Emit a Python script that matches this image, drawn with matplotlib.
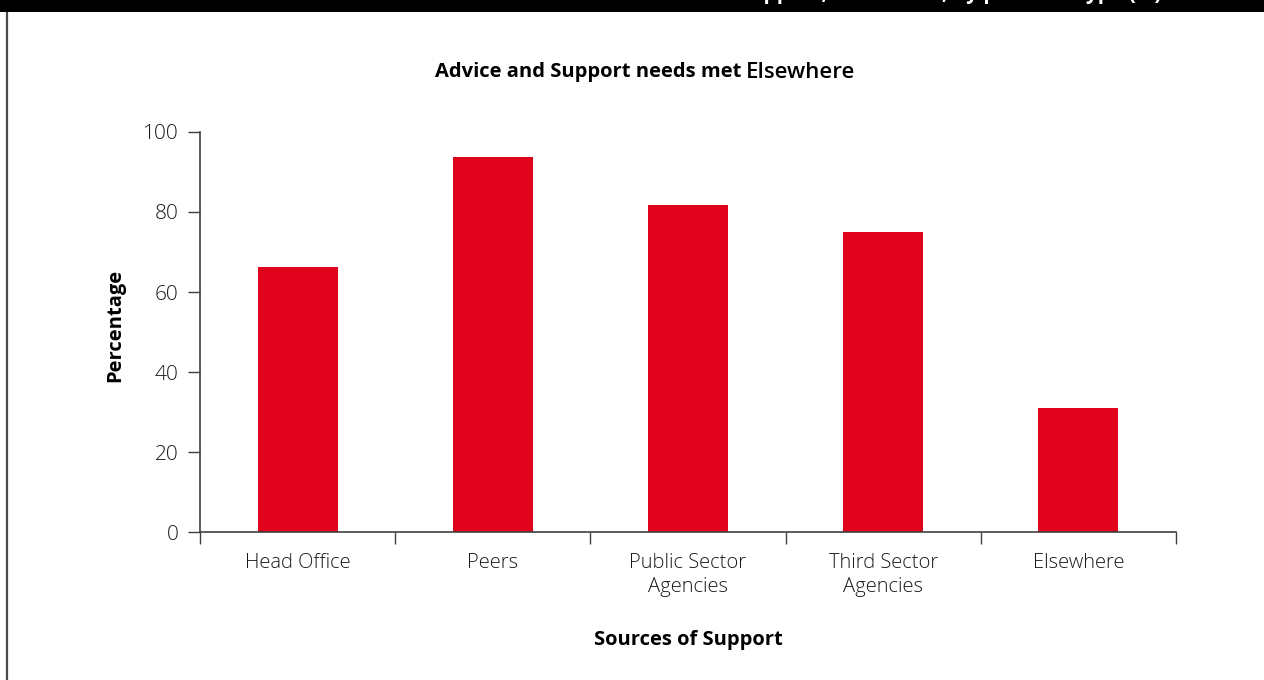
import matplotlib
import matplotlib.pyplot as plt
from matplotlib.lines import Line2D
from matplotlib.patches import Rectangle

matplotlib.use("Agg")

plt.rcParams["font.family"] = ["Open Sans", "DejaVu Sans"]

# Share of respondents whose advice/support needs were met, by source
sources = ["Head Office", "Peers", "Public Sector\nAgencies", "Third Sector\nAgencies", "Elsewhere"]
percentages = [66.2, 93.7, 81.7, 75.0, 31.0]
y_ticks = [0, 20, 40, 60, 80, 100]

BAR_RED = "#E1031D"
AXIS_GREY = "#404040"

fig = plt.figure(figsize=(12.64, 6.80), dpi=100)
ax = fig.add_axes([0.1582, 0.2176, 0.7722, 0.5883])

positions = list(range(len(sources)))
ax.bar(positions, percentages, width=0.41, color=BAR_RED, zorder=2)

ax.set_xlim(-0.5, len(sources) - 0.5)
ax.set_ylim(0, 100)
ax.set_yticks(y_ticks)
ax.set_yticklabels([str(t) for t in y_ticks], fontsize=15, color="#1a1a1a",
                   fontweight="light")

# category boundaries carry the tick marks, centres carry the labels
ax.set_xticks([p - 0.5 for p in positions] + [len(sources) - 0.5])
ax.set_xticklabels([])
ax.set_xticks(positions, minor=True)
ax.set_xticklabels(sources, minor=True, fontsize=14.5, color="#1a1a1a",
                   linespacing=1.25, fontweight="light")
ax.tick_params(axis="x", which="minor", length=0, pad=15)
ax.tick_params(axis="x", which="major", direction="out", length=8.6,
               width=1, color=AXIS_GREY)
ax.tick_params(axis="y", direction="out", length=8.6, width=1,
               color=AXIS_GREY, pad=7)

for side in ("top", "right"):
    ax.spines[side].set_visible(False)
for side in ("left", "bottom"):
    ax.spines[side].set_color(AXIS_GREY)
    ax.spines[side].set_linewidth(1.2)
ax.spines["bottom"].set_zorder(3)

ax.set_ylabel("Percentage", fontsize=14.5, fontweight="bold", va="center")
ax.yaxis.set_label_coords(-0.087, 0.5175)
ax.set_xlabel("Sources of Support", fontsize=14.5, fontweight="bold", labelpad=24)

# title in two runs: the source name is set slightly larger
t1 = fig.text(0.5, 1 - 72 / 680, "Advice and Support needs met ",
              fontsize=14.5, fontweight="bold", va="center", ha="left")
t2 = fig.text(0.5, 1 - 72 / 680, "Elsewhere",
              fontsize=16, fontweight="semibold", va="center", ha="left")
fig.canvas.draw()
renderer = fig.canvas.get_renderer()
w1 = t1.get_window_extent(renderer).width / fig.bbox.width
w2 = t2.get_window_extent(renderer).width / fig.bbox.width
x0 = 645 / 1264 - (w1 + w2) / 2
t1.set_x(x0)
t2.set_x(x0 + w1)

# black header band (caption runs off the top edge) and page frame line
fig.patches.append(Rectangle((0, 1 - 12 / 680), 1, 12 / 680, transform=fig.transFigure,
                             facecolor="black", edgecolor="none", zorder=5))
fig.text(0.66, 1 + 0.5 / 680, "Sources of Advice and Support, needs met, by provider type (%)",
         fontsize=15, fontweight="bold", color="white", ha="center", va="baseline",
         zorder=6)
fig.lines.append(Line2D([7 / 1264, 7 / 1264], [0, 1 - 12 / 680], transform=fig.transFigure,
                        color="#4a4a4a", linewidth=1.6))

fig.savefig("out.png", dpi=100)
